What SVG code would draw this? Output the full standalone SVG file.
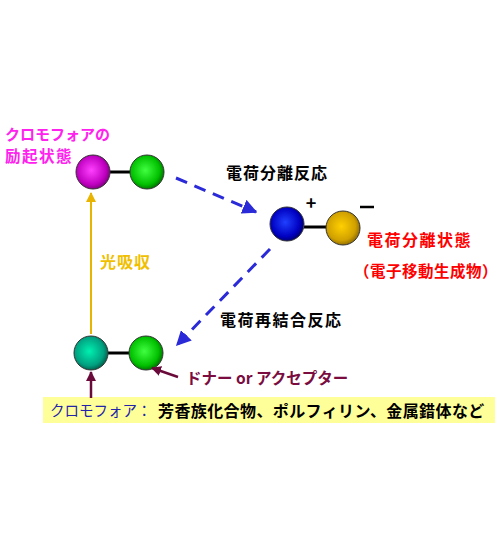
<svg xmlns="http://www.w3.org/2000/svg" width="500" height="560" viewBox="0 0 500 560">
<defs>
<radialGradient id="gM" cx="0.45" cy="0.45" r="0.6"><stop offset="0" stop-color="#ff40ff"/><stop offset="0.7" stop-color="#c000c0"/><stop offset="1" stop-color="#700070"/></radialGradient>
<radialGradient id="gG" cx="0.45" cy="0.45" r="0.6"><stop offset="0" stop-color="#40ff40"/><stop offset="0.7" stop-color="#00c000"/><stop offset="1" stop-color="#006000"/></radialGradient>
<radialGradient id="gB" cx="0.45" cy="0.45" r="0.6"><stop offset="0" stop-color="#2040ff"/><stop offset="0.7" stop-color="#0000c0"/><stop offset="1" stop-color="#000060"/></radialGradient>
<radialGradient id="gY" cx="0.45" cy="0.45" r="0.6"><stop offset="0" stop-color="#ffd000"/><stop offset="0.7" stop-color="#d0a000"/><stop offset="1" stop-color="#806000"/></radialGradient>
<radialGradient id="gT" cx="0.45" cy="0.45" r="0.6"><stop offset="0" stop-color="#00f0b0"/><stop offset="0.7" stop-color="#00a080"/><stop offset="1" stop-color="#005040"/></radialGradient>
<marker id="aBlue" viewBox="0 0 10 10" refX="9" refY="5" markerWidth="5" markerHeight="5" orient="auto" markerUnits="strokeWidth"><path d="M0,0 L10,5 L0,10 z" fill="#2a2ad8"/></marker>
<marker id="aYel" viewBox="0 0 10 10" refX="9" refY="5" markerWidth="5" markerHeight="5" orient="auto" markerUnits="strokeWidth"><path d="M0,0 L10,5 L0,10 z" fill="#e8b400"/></marker>
<marker id="aMar" viewBox="0 0 10 10" refX="9" refY="5" markerWidth="4" markerHeight="4" orient="auto" markerUnits="strokeWidth"><path d="M0,0 L10,5 L0,10 z" fill="#6a0a3a"/></marker>
</defs>
<style>
.t{font-family:"Noto Sans CJK JP","Liberation Sans",sans-serif;font-weight:bold;}
.sph{stroke:#333;stroke-width:1;}
.bond{stroke:#000;stroke-width:3;}
.dash{stroke:#2a2ad8;stroke-width:3;stroke-dasharray:12,8;fill:none;}
</style>
<g id="excited">
<line class="bond" x1="110" y1="172" x2="130" y2="172"/>
<circle class="sph" cx="93" cy="172" r="17" fill="url(#gM)"/>
<circle class="sph" cx="147" cy="172" r="17" fill="url(#gG)"/>
<text class="t" x="5" y="140" font-size="15" fill="#ff22ee">クロモフォアの</text>
<text class="t" x="5" y="162" font-size="15.5" fill="#ff22ee" letter-spacing="1.5">励起状態</text>
</g>
<g id="separated">
<line class="bond" x1="304" y1="227" x2="326" y2="227"/>
<circle class="sph" cx="287" cy="224" r="17" fill="url(#gB)"/>
<circle class="sph" cx="343" cy="228" r="17" fill="url(#gY)"/>
<text class="t" x="311" y="210" font-size="18" fill="#000" text-anchor="middle">+</text>
<line x1="360" y1="207" x2="374" y2="207" stroke="#000" stroke-width="2.5"/>
<text class="t" x="367" y="246" font-size="16" fill="#ff0000" letter-spacing="1.5">電荷分離状態</text>
<text class="t" x="354" y="277" font-size="15.5" fill="#ff0000" letter-spacing="0.5">（電子移動生成物）</text>
</g>
<g id="ground">
<line class="bond" x1="108" y1="353" x2="130" y2="353"/>
<circle class="sph" cx="91" cy="353" r="17" fill="url(#gT)"/>
<circle class="sph" cx="146" cy="353" r="17" fill="url(#gG)"/>
<text class="t" x="186" y="384" font-size="15.5" fill="#7a0c40">ドナー or アクセプター</text>
</g>
<g id="legend">
<rect x="43" y="397" width="452" height="26" fill="#ffff99"/>
<text class="t" x="50" y="416" font-size="14.5" fill="#2222aa" style="font-weight:normal">クロモフォア：</text>
<text class="t" x="158" y="417" font-size="16" fill="#000" letter-spacing="0.4">芳香族化合物、ポルフィリン、金属錯体など</text>
</g>
<g id="connectors">
<path class="dash" d="M176,178 L256,212" marker-end="url(#aBlue)"/>
<path class="dash" d="M270,249 L177,345" marker-end="url(#aBlue)"/>
<line x1="91" y1="334" x2="91" y2="193" stroke="#e8b400" stroke-width="2" marker-end="url(#aYel)"/>
<line x1="91" y1="398" x2="91" y2="372" stroke="#6a0a3a" stroke-width="2.5" marker-end="url(#aMar)"/>
<line x1="178" y1="377" x2="152" y2="368" stroke="#6a0a3a" stroke-width="2.5" marker-end="url(#aMar)"/>
</g>
<g id="labels">
<text class="t" x="226" y="179" font-size="16" fill="#000" letter-spacing="1">電荷分離反応</text>
<text class="t" x="220" y="326" font-size="16" fill="#000" letter-spacing="1.5">電荷再結合反応</text>
<text class="t" x="100" y="268" font-size="16" fill="#f0c000" letter-spacing="1">光吸収</text>
</g>
</svg>
